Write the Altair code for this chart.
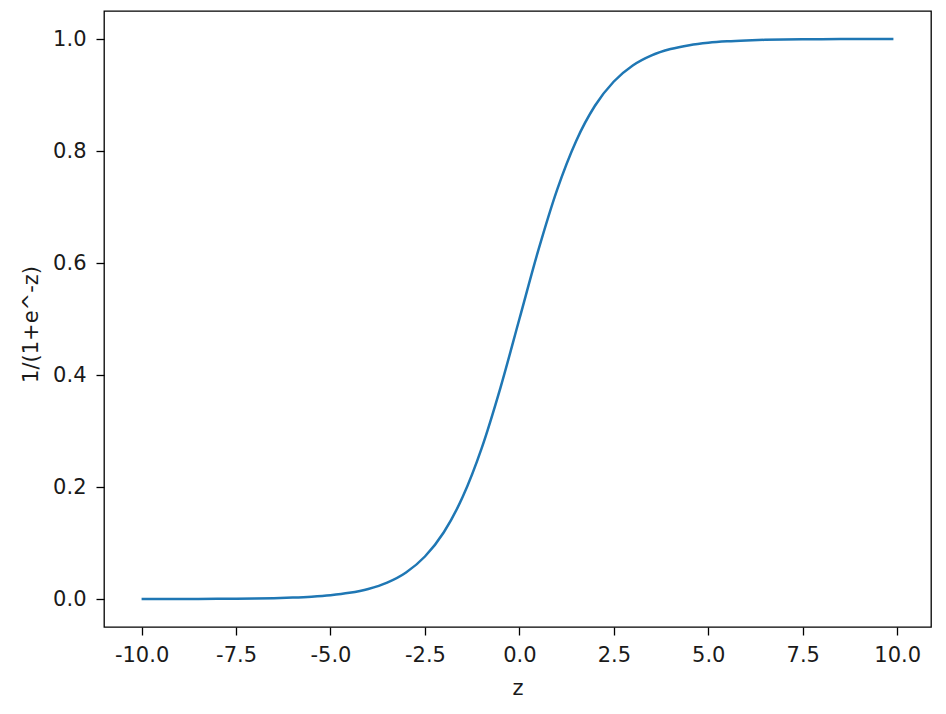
import altair as alt
import pandas as pd

# z values and sigmoid values
z_vals = [-10.0, -9.5, -9.0, -8.5, -8.0, -7.5, -7.0, -6.5, -6.0, -5.5, -5.0, -4.5,
          -4.0, -3.5, -3.0, -2.5, -2.0, -1.5, -1.0, -0.5, 0.0, 0.5, 1.0, 1.5, 2.0,
          2.5, 3.0, 3.5, 4.0, 4.5, 5.0, 5.5, 6.0, 6.5, 7.0, 7.5, 8.0, 8.5, 9.0, 9.5, 9.9]
y_vals = [0.00005, 0.00007, 0.00012, 0.0002, 0.00034, 0.00055, 0.0009, 0.0015, 0.0025, 0.0041, 0.0067, 0.011,
          0.018, 0.0293, 0.0474, 0.0759, 0.1192, 0.1824, 0.2689, 0.3775, 0.500, 0.6225, 0.7311, 0.8176, 0.8808,
          0.9241, 0.9526, 0.9707, 0.982, 0.989, 0.9933, 0.9959, 0.9975, 0.9985, 0.9991, 0.99945, 0.99966, 0.9998, 0.99988, 0.99993, 0.99995]

x_ticks = [-10.0, -7.5, -5.0, -2.5, 0.0, 2.5, 5.0, 7.5, 10.0]
y_ticks = [0.0, 0.2, 0.4, 0.6, 0.8, 1.0]

df = pd.DataFrame({"z": z_vals, "s": y_vals})

FONT = "DejaVu Sans"
FS = 21
LABEL_EXPR = "datum.value < 0 ? '-' + format(-datum.value, '.1f') : format(datum.value, '.1f')"

chart = (
    alt.Chart(df)
    .mark_line(color="#1f77b4", strokeWidth=2.5, interpolate="monotone")
    .encode(
        x=alt.X(
            "z:Q",
            scale=alt.Scale(domain=[-10.995, 10.895], nice=False, zero=False),
            axis=alt.Axis(
                title="z",
                values=x_ticks,
                labelExpr=LABEL_EXPR,
                grid=False,
                domain=False,
                tickSize=8,
                tickWidth=1.3,
                tickColor="#000000",
                labelPadding=20,
                labelBaseline="middle",
                labelFont=FONT,
                labelFontSize=FS,
                labelColor="#1a1a1a",
                titleFont=FONT,
                titleFontSize=FS,
                titleFontWeight="normal",
                titleColor="#1a1a1a",
                titleBaseline="middle",
                titleAlign="center",
                titleX=413.5,
                titleY=61,
            ),
        ),
        y=alt.Y(
            "s:Q",
            scale=alt.Scale(domain=[-0.05, 1.05], nice=False, zero=False),
            axis=alt.Axis(
                title="1/(1+e^-z)",
                values=y_ticks,
                labelExpr=LABEL_EXPR,
                grid=False,
                domain=False,
                tickSize=8,
                tickWidth=1.3,
                tickColor="#000000",
                labelPadding=10,
                labelFont=FONT,
                labelFontSize=FS,
                labelColor="#1a1a1a",
                titleFont=FONT,
                titleFontSize=FS,
                titleFontWeight="normal",
                titleColor="#1a1a1a",
                titleAngle=-90,
                titleBaseline="middle",
                titleAlign="center",
                titleX=-73,
                titleY=313,
            ),
        ),
    )
    .properties(
        width=827,
        height=616,
        autosize=alt.AutoSizeParams(type="none"),
        padding={"left": 96, "top": 3, "right": 7, "bottom": 80},
        background="white",
    )
    .configure_view(stroke="#000000", strokeWidth=1.3)
)

chart.save("out.html", embed_options={"renderer": "svg", "actions": False})
